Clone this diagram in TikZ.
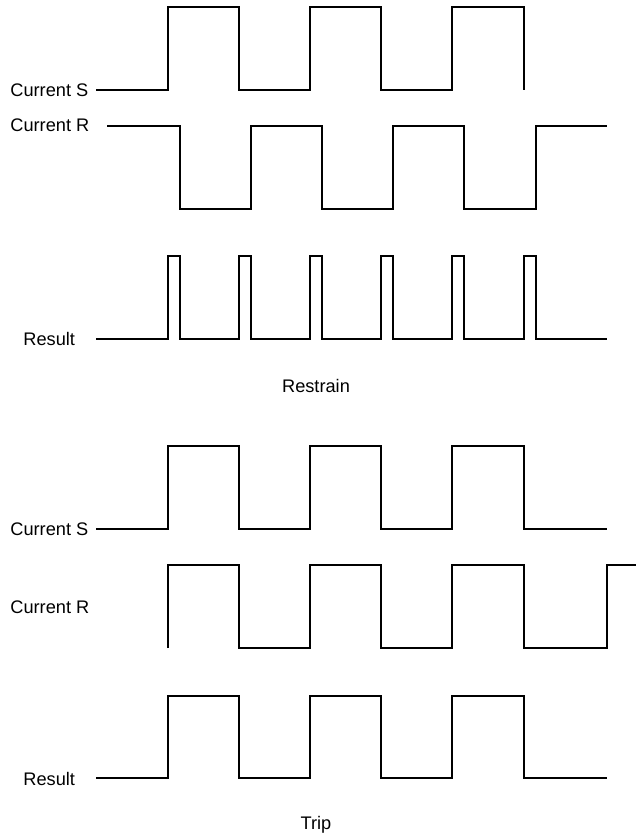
\documentclass[tikz,border=0pt]{standalone}
\usepackage{fontspec}
\setmainfont{Liberation Sans}
\colorlet{wavex}{black}
\tikzset{
    wave/.style={wavex,line width=1pt,line join=miter},
    lbl/.style={inner sep=0pt,font=\fontsize{9.1}{11}\selectfont}
}
\begin{document}
\begin{tikzpicture}[x=0.5pt,y=-0.5pt]
            \useasboundingbox (0,0) rectangle (636,833);
            % restrain case
            \node [lbl,anchor=base west] (rsS) at (10,97) {Current S};
            \node [lbl,anchor=base west] (rsR) at (10,132) {Current R};
            \node [lbl,anchor=base west] (rsOut) at (23,345) {Result};
            \node [lbl,anchor=base] (rsTitle) at (316,392) {Restrain};
            \draw [wave] (96,90) -| (168,7) -| (239,90) -| (310,7)
                -| (381,90) -| (452,7) -| (524,90);
            \draw [wave] (107,126) -| (180,209) -| (251,126) -| (322,209)
                -| (393,126) -| (464,209) -| (536,126) -- (607,126);
            \draw [wave] (96,339)
                foreach \x in {168,239,310,381,452,524} {
                    -- (\x,339) -- (\x,256) -- ({\x+12},256) -- ({\x+12},339)
                }
                -- (607,339);
            % trip case
            \node [lbl,anchor=base west] (trS) at (10,535) {Current S};
            \node [lbl,anchor=base west] (trR) at (10,613) {Current R};
            \node [lbl,anchor=base west] (trOut) at (23,785) {Result};
            \node [lbl,anchor=base] (trTitle) at (316,829) {Trip};
            \draw [wave] (96,529) -| (168,446) -| (239,529) -| (310,446)
                -| (381,529) -| (452,446) -| (524,529) -- (607,529);
            \draw [wave] (168,648) -- (168,565) -| (239,648) -| (310,565)
                -| (381,648) -| (452,565) -| (524,648) -| (607,565) -- (636,565);
            \draw [wave] (96,778) -| (168,696) -| (239,778) -| (310,696)
                -| (381,778) -| (452,696) -| (524,778) -- (607,778);
        \end{tikzpicture}
\end{document}
